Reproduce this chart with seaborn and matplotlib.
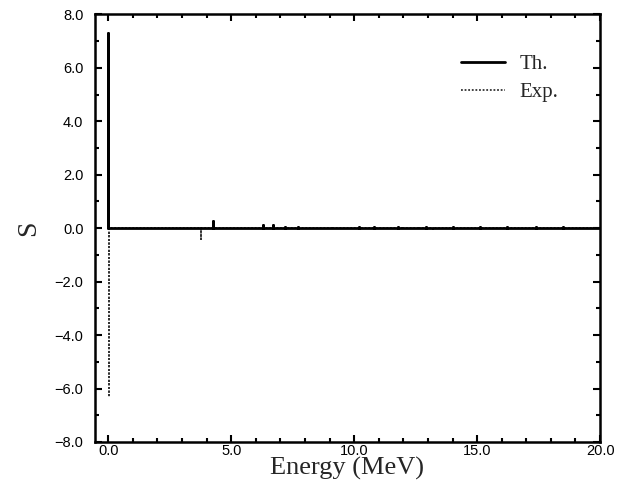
import numpy as np
import pandas as pd
import matplotlib
matplotlib.use("Agg")
import matplotlib.pyplot as plt
import seaborn as sns
from matplotlib.ticker import MultipleLocator, FuncFormatter

# Theoretical stick spectrum (energy in MeV, strength S)
th_energy = [0.0, 4.25, 6.28, 6.68, 7.2, 7.7, 10.2, 10.8, 11.8, 12.9, 14.0, 15.1, 16.2, 17.4, 18.5]
th_strength = [7.3, 0.28, 0.1, 0.1, 0.04, 0.04, 0.04, 0.06, 0.04, 0.04, 0.04, 0.04, 0.04, 0.04, 0.04]

# Experimental stick spectrum
exp_energy = [0.0, 0.02, 3.78, 9.1, 12.0, 12.6, 13.2]
exp_strength = [5.0, -6.3, -0.4, 0.05, -0.05, -0.05, -0.05]

x_end = 20.0

def stick_path(energies, strengths, end):
    xs, ys = [0.0], [0.0]
    for e, s in zip(energies, strengths):
        xs += [e, e, e]
        ys += [0.0, s, 0.0]
    xs.append(end)
    ys.append(0.0)
    return pd.DataFrame({"x": xs, "y": ys, "o": np.arange(len(xs))})

sns.set_style("ticks")
plt.rcParams["font.family"] = ["Liberation Sans", "DejaVu Sans"]

fig = plt.figure(figsize=(6.18, 4.87), dpi=100)
ax = fig.add_axes([0.153, 0.0925, 0.818, 0.878])

df_exp = stick_path(exp_energy, exp_strength, x_end)
df_th = stick_path(th_energy, th_strength, x_end)

sns.lineplot(data=df_exp, x="x", y="y", sort=False, estimator=None, ax=ax,
             color="#333333", linewidth=1.3, linestyle=(0, (1, 1)), label="Exp.")
sns.lineplot(data=df_th, x="x", y="y", sort=False, estimator=None, ax=ax,
             color="black", linewidth=2.0, label="Th.")

fmt = FuncFormatter(lambda v, p: f"{v:.1f}".replace("-", "\u2212"))
ax.set_xlim(-0.56, 20.0)
ax.set_ylim(-8.0, 8.0)
ax.xaxis.set_major_locator(MultipleLocator(5.0))
ax.xaxis.set_minor_locator(MultipleLocator(1.0))
ax.yaxis.set_major_locator(MultipleLocator(2.0))
ax.yaxis.set_minor_locator(MultipleLocator(1.0))
ax.xaxis.set_major_formatter(fmt)
ax.yaxis.set_major_formatter(fmt)
ax.tick_params(which="both", direction="in", top=True, right=True, width=1.5,
               labelsize=10.5, colors="black")
ax.tick_params(which="major", length=5)
ax.tick_params(which="minor", length=3)
ax.tick_params(axis="x", which="major", pad=1.5)
ax.tick_params(axis="y", which="major", pad=8)
for sp in ax.spines.values():
    sp.set_linewidth(1.8)
    sp.set_color("black")

ax.set_xlabel("Energy (MeV)", family="Liberation Serif", fontsize=19)
ax.xaxis.set_label_coords(0.5, -0.036)
ax.set_ylabel("S", family="Liberation Serif", fontsize=20, labelpad=10)

handles, labels = ax.get_legend_handles_labels()
order = [labels.index("Th."), labels.index("Exp.")]
leg = ax.legend([handles[i] for i in order], [labels[i] for i in order],
                frameon=False, loc="upper right", bbox_to_anchor=(0.955, 0.95),
                handlelength=2.1, prop={"family": "Liberation Serif", "size": 15},
                labelspacing=0.4, handletextpad=0.7)

fig.savefig("out.png", dpi=100)
